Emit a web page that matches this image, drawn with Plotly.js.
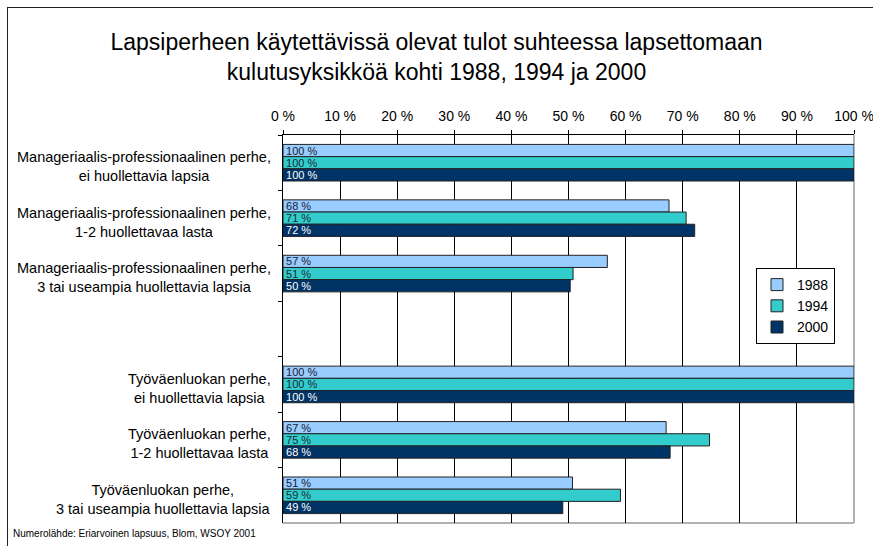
<!DOCTYPE html>
<html>
<head>
<meta charset="utf-8">
<script src="https://cdn.plot.ly/plotly-3.0.1.min.js"></script>
<style>
html,body{margin:0;padding:0;background:#fff;overflow:hidden;}
#wrap{position:relative;width:873px;height:546px;overflow:hidden;}
#chart{width:873px;height:546px;}
#frame{position:absolute;left:7px;top:7px;width:900px;height:600px;border-left:1px solid #222;border-top:1px solid #222;pointer-events:none;}
</style>
</head>
<body>
<div id="wrap"><div id="chart"></div><div id="frame"></div></div>
<script>
// Data
const categories = [
  'mp0', 'mp12', 'mp3', 'gap', 'tv0', 'tv12', 'tv3'
];
const categoryLabels = [
  'Manageriaalis-professionaalinen perhe,<br>ei huollettavia lapsia',
  'Manageriaalis-professionaalinen perhe,<br>1-2 huollettavaa lasta',
  'Manageriaalis-professionaalinen perhe,<br>3 tai useampia huollettavia lapsia',
  '',
  'Työväenluokan perhe,<br>ei huollettavia lapsia',
  'Työväenluokan perhe,<br>1-2 huollettavaa lasta',
  'Työväenluokan perhe,<br>3 tai useampia huollettavia lapsia'
];
const dataCategories = ['mp0', 'mp12', 'mp3', 'tv0', 'tv12', 'tv3'];
const series1988 = [100, 67.6, 56.8, 100, 67.1, 50.7];
const series1994 = [100, 70.6, 50.8, 100, 74.7, 59.1];
const series2000 = [100, 72.1, 50.3, 100, 67.8, 49.0];
const seriesNames = ['1988', '1994', '2000'];
const xTickVals = [0, 10, 20, 30, 40, 50, 60, 70, 80, 90, 100];
const xTickLabels = ['0 %', '10 %', '20 %', '30 %', '40 %', '50 %', '60 %', '70 %', '80 %', '90 %', '100 %'];
const sourceNote = 'Numerolähde: Eriarvoinen lapsuus, Blom, WSOY 2001';
const titleText = 'Lapsiperheen käytettävissä olevat tulot suhteessa lapsettomaan<br>kulutusyksikköä kohti 1988, 1994 ja 2000';

const FONT = 'Liberation Sans, Arial, Helvetica, sans-serif';
const colors = ['#99CCFF', '#33CCCC', '#003366'];
const textColors = ['#1a1a33', '#1a2a33', '#ffffff'];
const allSeries = [series1988, series1994, series2000];

const traces = allSeries.map((vals, i) => ({
  type: 'bar',
  orientation: 'h',
  name: seriesNames[i],
  legendgroup: seriesNames[i],
  y: dataCategories,
  x: vals,
  marker: {color: colors[i], line: {color: '#222222', width: 1}},
  texttemplate: '%{x:.0f} %',
  textposition: 'inside',
  insidetextanchor: 'start',
  constraintext: 'none',
  textfont: {family: FONT, size: 11, color: textColors[i]},
  hoverinfo: 'skip'
}));

// plot area geometry
const L = 283, R = 854, T = 135, B = 523, W = 873, H = 546;
const pw = R - L, ph = B - T;
const px = v => (v - L) / pw;
const py = v => (B - v) / ph;

const annotations = categories.map((c, i) => ({
  xref: 'paper', yref: 'y',
  x: 0, y: c,
  xanchor: 'right', yanchor: 'middle',
  xshift: -10, yshift: -4,
  align: 'center',
  showarrow: false,
  text: categoryLabels[i],
  font: {family: FONT, size: 14.5, color: '#000'}
})).filter(a => a.text !== '');

annotations.push({
  xref: 'paper', yref: 'paper',
  x: px(11), y: py(533),
  xanchor: 'left', yanchor: 'middle',
  showarrow: false,
  text: sourceNote,
  font: {family: FONT, size: 10, color: '#000'}
});

const layout = {
  width: W, height: H,
  margin: {l: L, r: W - R, t: T, b: H - B, pad: 0},
  paper_bgcolor: '#fff', plot_bgcolor: '#fff',
  font: {family: FONT, color: '#000'},
  title: {
    text: titleText,
    font: {family: FONT, size: 23, color: '#000'},
    x: 0.5, xref: 'container', xanchor: 'center',
    y: 1 - 50 / H, yref: 'container', yanchor: 'top'
  },
  barmode: 'group',
  bargap: 0.34,
  bargroupgap: 0,
  showlegend: true,
  legend: {
    x: px(835), xanchor: 'right',
    y: py(268), yanchor: 'top',
    bgcolor: '#fff', bordercolor: '#000', borderwidth: 1,
    font: {family: FONT, size: 14, color: '#000'},
    tracegroupgap: 0,
    itemwidth: 30
  },
  xaxis: {
    side: 'top',
    range: [0, 100],
    tickmode: 'array',
    tickvals: xTickVals,
    ticktext: xTickLabels,
    ticklabeloverflow: 'allow',
    ticks: 'outside', ticklen: 4, tickcolor: '#000',
    ticklabelstandoff: 3,
    showline: true, linecolor: '#000', linewidth: 1,
    showgrid: true, gridcolor: '#000', gridwidth: 1,
    zeroline: false,
    tickfont: {family: FONT, size: 14, color: '#000'},
    fixedrange: true
  },
  yaxis: {
    type: 'category',
    categoryorder: 'array',
    categoryarray: categories,
    range: [6.5, -0.5],
    showticklabels: false,
    ticks: 'outside', ticklen: 4, tickcolor: '#000',
    tickson: 'boundaries',
    showline: true, linecolor: '#000', linewidth: 1,
    showgrid: false, zeroline: false,
    fixedrange: true
  },
  shapes: [
    {type: 'line', xref: 'paper', yref: 'paper', x0: 1, x1: 1, y0: 0, y1: 1,
     line: {color: '#9a9a9a', width: 1.5}, layer: 'between'},
    {type: 'line', xref: 'paper', yref: 'paper', x0: 0, x1: 1, y0: 0, y1: 0,
     line: {color: '#9a9a9a', width: 1.5}, layer: 'between'}
  ],
  annotations: annotations
};

Plotly.newPlot('chart', traces, layout, {displayModeBar: false, staticPlot: true});
</script>
</body>
</html>
